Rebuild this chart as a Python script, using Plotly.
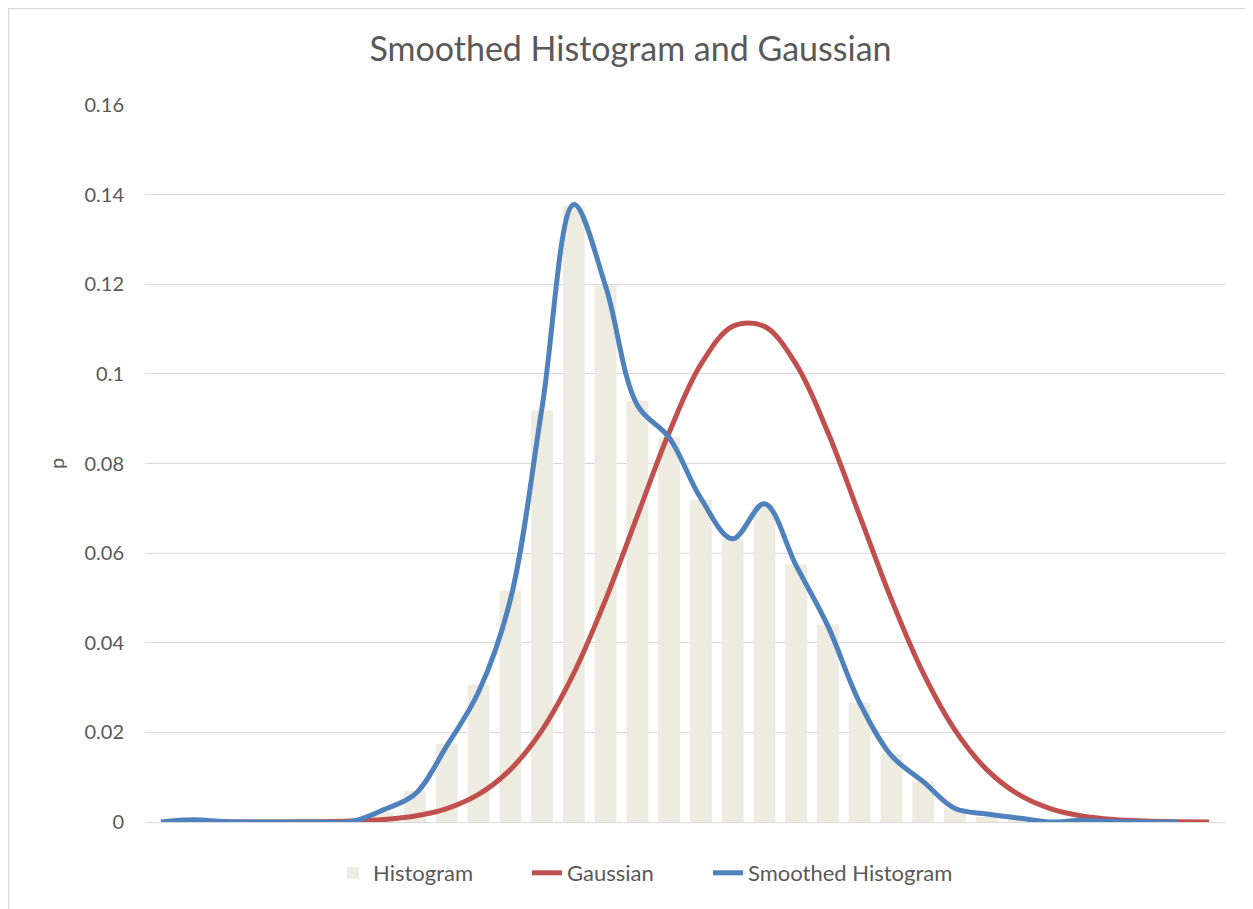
import plotly.graph_objects as go

# ---- data ----
categories = [0, 1, 2, 3, 4, 5, 6, 7, 8, 9, 10, 11, 12, 13, 14, 15, 16,
              17, 18, 19, 20, 21, 22, 23, 24, 25, 26, 27, 28, 29, 30, 31, 32, 33]

histogram = [0, 0, 0, 0, 0, 0, 0, 0.0023, 0.0069, 0.0174, 0.0306, 0.0516,
             0.0918, 0.1375, 0.1198, 0.0940, 0.0858, 0.0719, 0.0632, 0.0710,
             0.0575, 0.0440, 0.0266, 0.0152, 0.0091, 0.0031, 0.0011, 0.0003,
             0, 0, 0, 0, 0, 0]

gaussian = [None, 0.0000005, 0.000002, 0.000007, 0.000024, 0.000074, 0.00021,
            0.00055, 0.00134, 0.00299, 0.00615, 0.01169, 0.0205, 0.0332,
            0.0496, 0.0683, 0.0869, 0.1021, 0.1106, 0.1106, 0.1021, 0.0869,
            0.0683, 0.0496, 0.0332, 0.0205, 0.01169, 0.00615, 0.00299,
            0.00134, 0.00055, 0.00021, 0.000074, 0.000024]

smoothed = [0, 0.0005, 0.0001, 0, 0, 0, 0.0001, 0.0027, 0.0062, 0.0170,
            0.0290, 0.0495, 0.0925, 0.1378, 0.1196, 0.0930, 0.0858, 0.0722,
            0.0632, 0.0710, 0.0572, 0.0437, 0.0266, 0.0148, 0.0090, 0.0030,
            0.0018, 0.0009, 0.0000, 0.0004, 0.0001, 0, 0, None]

y_ticks = [0, 0.02, 0.04, 0.06, 0.08, 0.1, 0.12, 0.14, 0.16]

TEXT = "#595959"
FONT = "Lato"

W, H = 1245, 901          # page has an 8px body margin
PL, PR, PT, PB = 137, 1217, 97, 814   # plot area in figure pixels
PW, PH = PR - PL, PB - PT


def lx(page_x):
    return (page_x - 8 - PL) / PW


fig = go.Figure()
fig.add_trace(go.Bar(x=categories, y=histogram, name="Histogram", legend="legend",
                     marker=dict(color="#EEECE1", line=dict(width=0))))
fig.add_trace(go.Scatter(x=categories, y=gaussian, name="Gaussian", mode="lines",
                         legend="legend2",
                         line=dict(color="#C0504D", width=5, shape="spline",
                                   smoothing=1.0)))
fig.add_trace(go.Scatter(x=categories, y=smoothed, name="Smoothed Histogram",
                         mode="lines", legend="legend3",
                         line=dict(color="#4F81BD", width=5, shape="spline",
                                   smoothing=1.0)))

leg_y = -(865 - PB) / PH
leg_common = dict(orientation="h", xanchor="left", y=leg_y, yanchor="middle",
                  font=dict(family=FONT, size=22, color=TEXT),
                  bgcolor="rgba(0,0,0,0)")

fig.update_layout(
    width=W, height=H,
    margin=dict(l=PL, r=W - PR, t=PT, b=H - PB, autoexpand=False),
    paper_bgcolor="white", plot_bgcolor="white",
    font=dict(family=FONT, color=TEXT, size=20),
    title=dict(text="Smoothed Histogram and Gaussian", x=0.5, xanchor="center",
               y=1 - 41 / H, yanchor="middle",
               font=dict(family=FONT, size=34, color=TEXT)),
    bargap=0.31,
    showlegend=True,
    legend=dict(x=lx(333), **leg_common),
    legend2=dict(x=lx(527), **leg_common),
    legend3=dict(x=lx(708), **leg_common),
    xaxis=dict(range=[-0.5, 33.5], showticklabels=False, showgrid=False,
               zeroline=False, showline=False, ticks=""),
    yaxis=dict(range=[0, 0.16], tickvals=y_ticks, showgrid=True,
               gridcolor="#D9D9D9", gridwidth=1, zeroline=True,
               zerolinecolor="#D9D9D9", zerolinewidth=1, showline=False,
               ticks="", ticklabelstandoff=20,
               tickfont=dict(family=FONT, size=20, color=TEXT),
               title=dict(text="p", standoff=14,
                          font=dict(family=FONT, size=20, color=TEXT))),
    shapes=[dict(type="rect", xref="paper", yref="paper",
                 x0=(0.5 - PL) / PW, x1=(1300 - PL) / PW,
                 y0=(PB - 960) / PH, y1=(PB - 0.5) / PH,
                 line=dict(color="#D9D9D9", width=1.5), fillcolor="rgba(0,0,0,0)",
                 layer="below")],
)

fig.write_html("out.html")
